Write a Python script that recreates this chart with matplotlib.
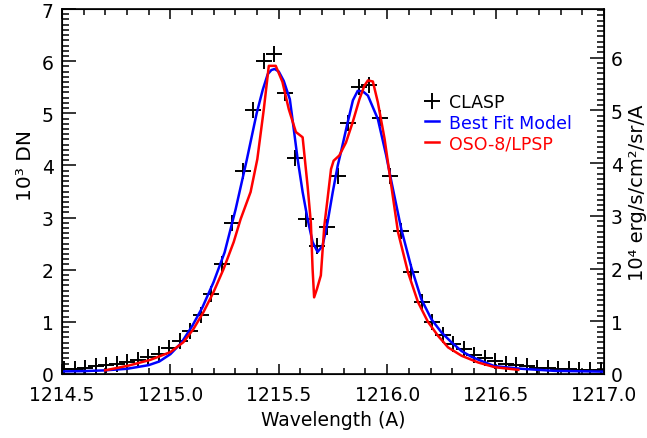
import matplotlib
matplotlib.use('Agg')
import matplotlib.pyplot as plt
from matplotlib.ticker import MultipleLocator

plt.rcParams['font.family'] = ['DejaVu Sans']

# CLASP measurements (wavelength in A, 10^3 DN)
clasp_wl = [1214.510, 1214.559, 1214.607, 1214.656, 1214.704, 1214.753, 1214.801, 1214.850,
            1214.898, 1214.947, 1214.995, 1215.044, 1215.092, 1215.141, 1215.189, 1215.238,
            1215.286, 1215.335, 1215.383, 1215.432, 1215.480, 1215.529, 1215.577, 1215.626,
            1215.674, 1215.723, 1215.771, 1215.820, 1215.868, 1215.917, 1215.965, 1216.014,
            1216.062, 1216.111, 1216.159, 1216.208, 1216.256, 1216.305, 1216.353, 1216.402,
            1216.450, 1216.499, 1216.547, 1216.596, 1216.644, 1216.693, 1216.741, 1216.790,
            1216.838, 1216.887, 1216.935, 1216.984]
clasp_dn = [0.09, 0.10, 0.12, 0.15, 0.17, 0.20, 0.23, 0.27, 0.32, 0.39, 0.50, 0.64,
            0.83, 1.13, 1.53, 2.10, 2.90, 3.90, 5.07, 6.00, 6.14, 5.39, 4.15, 2.98,
            2.45, 2.82, 3.80, 4.82, 5.50, 5.55, 4.91, 3.80, 2.74, 1.96, 1.38, 1.00,
            0.74, 0.58, 0.47, 0.37, 0.31, 0.25, 0.20, 0.17, 0.15, 0.12, 0.11, 0.10,
            0.10, 0.08, 0.08, 0.08]

# best fit model
fit_wl = [1214.500, 1214.600, 1214.699, 1214.801, 1214.900, 1214.949, 1215.000, 1215.051,
          1215.102, 1215.148, 1215.199, 1215.250, 1215.301, 1215.352, 1215.398, 1215.426,
          1215.449, 1215.466, 1215.481, 1215.500, 1215.523, 1215.551, 1215.569, 1215.587,
          1215.610, 1215.633, 1215.656, 1215.679, 1215.702, 1215.725, 1215.749, 1215.772,
          1215.787, 1215.818, 1215.842, 1215.864, 1215.888, 1215.911, 1215.957, 1215.995,
          1216.019, 1216.065, 1216.111, 1216.157, 1216.204, 1216.250, 1216.296, 1216.343,
          1216.389, 1216.435, 1216.495, 1216.620, 1216.773, 1217.000]
fit_dn = [0.05, 0.055, 0.07, 0.10, 0.17, 0.24, 0.38, 0.60,
          0.93, 1.28, 1.76, 2.33, 3.16, 4.10, 5.00, 5.45,
          5.75, 5.83, 5.85, 5.80, 5.62, 5.27, 4.70, 4.12,
          3.49, 2.97, 2.53, 2.34, 2.46, 2.91, 3.49, 4.00,
          4.26, 4.83, 5.25, 5.43, 5.42, 5.34, 4.89, 4.20,
          3.70, 2.78, 2.05, 1.44, 1.05, 0.80, 0.61, 0.44,
          0.33, 0.25, 0.15, 0.10, 0.06, 0.045]

# OSO-8/LPSP profile
oso_wl = [1214.699, 1214.806, 1214.907, 1215.000, 1215.060, 1215.106, 1215.153, 1215.199,
          1215.245, 1215.292, 1215.324, 1215.370, 1215.401, 1215.431, 1215.454, 1215.486,
          1215.517, 1215.546, 1215.579, 1215.610, 1215.633, 1215.648, 1215.656, 1215.663,
          1215.676, 1215.694, 1215.710, 1215.725, 1215.741, 1215.753, 1215.779, 1215.810,
          1215.841, 1215.872, 1215.895, 1215.911, 1215.934, 1215.957, 1215.988, 1216.019,
          1216.050, 1216.096, 1216.142, 1216.188, 1216.235, 1216.281, 1216.343, 1216.420,
          1216.497, 1216.605]
oso_dn = [0.07, 0.16, 0.27, 0.42, 0.61, 0.86, 1.19, 1.57,
          2.01, 2.53, 2.97, 3.49, 4.12, 5.08, 5.91, 5.91,
          5.60, 5.08, 4.64, 4.54, 3.60, 2.90, 2.01, 1.47,
          1.63, 1.89, 2.84, 3.36, 3.93, 4.09, 4.19, 4.44,
          4.83, 5.27, 5.53, 5.63, 5.61, 5.21, 4.51, 3.61,
          2.72, 1.95, 1.38, 1.00, 0.73, 0.51, 0.35, 0.22,
          0.13, 0.08]

fig = plt.figure(figsize=(6.47, 4.39), dpi=100)
ax = fig.add_axes([0.0958, 0.1458, 0.8377, 0.8314])

ax.plot(clasp_wl, clasp_dn, '+', color='black', markersize=11, markeredgewidth=1.4, label='CLASP')
ax.plot(fit_wl, fit_dn, color='blue', lw=1.8, label='Best Fit Model')
ax.plot(oso_wl, oso_dn, color='red', lw=1.8, label='OSO-8/LPSP')

ax.set_xlim(1214.5, 1217.0)
ax.set_ylim(0, 7)
ax.xaxis.set_major_locator(MultipleLocator(0.5))
ax.xaxis.set_minor_locator(MultipleLocator(0.1))
ax.yaxis.set_major_locator(MultipleLocator(1))
ax.yaxis.set_minor_locator(MultipleLocator(0.1))
ax.xaxis.set_major_formatter(matplotlib.ticker.FormatStrFormatter('%.1f'))
ax.tick_params(which='both', direction='in', top=True, right=False, width=1.1, labelsize=13.5)
ax.tick_params(axis='x', which='major', length=7, pad=8)
ax.tick_params(axis='x', which='minor', length=4)
ax.tick_params(axis='y', which='major', length=10, pad=6)
ax.tick_params(axis='y', which='minor', length=5)
for s in ax.spines.values():
    s.set_linewidth(1.2)

ax.set_xlabel('Wavelength (A)', fontsize=13.5)
ax.set_ylabel('10³ DN', fontsize=14.5)
ax.yaxis.set_label_coords(-0.05, 0.575)

ax2 = ax.twinx()
ax2.set_ylim(0, 6.92)
ax2.yaxis.set_major_locator(MultipleLocator(1))
ax2.yaxis.set_minor_locator(MultipleLocator(0.1))
ax2.tick_params(which='both', direction='in', width=1.1, labelsize=13.5)
ax2.tick_params(which='major', length=10, pad=5)
ax2.tick_params(which='minor', length=5)
ax2.set_ylabel('10⁴ erg/s/cm²/sr/A', fontsize=14)
ax2.yaxis.set_label_coords(1.045, 0.5)

leg = ax.legend(loc='upper left', bbox_to_anchor=(0.67, 0.77), frameon=False,
                fontsize=12.5, handlelength=0.8, handletextpad=0.6, labelspacing=0.15,
                borderpad=0, borderaxespad=0, labelcolor='linecolor')
leg.get_texts()[0].set_color('black')

fig.savefig('out.png', dpi=100)
